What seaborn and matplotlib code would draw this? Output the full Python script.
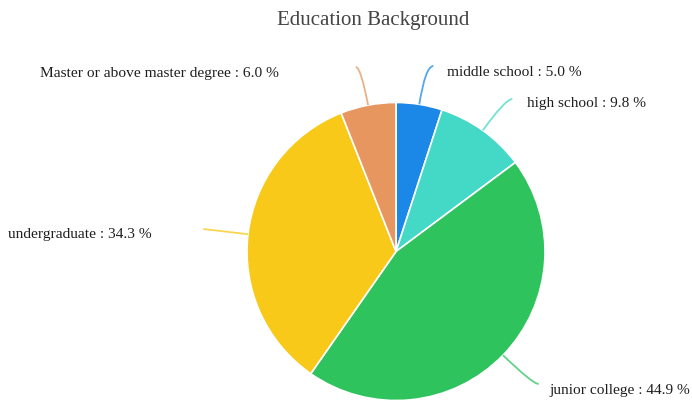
import numpy as np
import matplotlib
matplotlib.use("Agg")
import matplotlib.pyplot as plt
from matplotlib.path import Path
from matplotlib.patches import PathPatch
import seaborn as sns

# données
categories = ["middle school", "high school", "junior college", "undergraduate",
              "Master or above master degree"]
shares = [5.0, 9.8, 44.9, 34.3, 6.0]
couleurs = ["#1b88e8", "#44d8c6", "#2ec35d", "#f8c918", "#e6965e"]

sns.set_theme(style="white")
plt.rcParams["font.family"] = ["Liberation Serif", "DejaVu Serif"]

W, H = 692, 402
fig = plt.figure(figsize=(W / 100, H / 100), dpi=100)
ax = fig.add_axes([0, 0, 1, 1])

cx, cy, R = 396, H - 252.5, 149
ax.pie(shares, colors=couleurs, startangle=90, counterclock=False,
       center=(cx, cy), radius=R,
       wedgeprops=dict(edgecolor="white", linewidth=1.2))
ax.set_xlim(0, W)
ax.set_ylim(0, H)
ax.set_aspect("equal")
ax.axis("off")

# positions des étiquettes (pixels depuis le haut) et lignes de rappel
label_pos = [(447, 72), (527, 103), (549, 391), (8, 235), (40, 73)]
line_end_y = [67, 100, 385, 232, 68]
hook = [8, 7, 6, 0, -5]

total = sum(shares)
cum = 0
for i, (cat, v) in enumerate(zip(categories, shares)):
    mid = np.deg2rad((cum + v / 2) / total * 360)
    cum += v
    dx, dy = np.sin(mid), np.cos(mid)
    p0 = (cx + R * dx, cy + R * dy)
    ye = H - line_end_y[i]
    if abs(dy) > 0.2:
        t = (ye - p0[1]) / dy
    else:
        t = 45
    p1 = (p0[0] + t * dx, p0[1] + t * dy)
    p2 = (p1[0] + hook[i], p1[1])
    path = Path([p0, p1, p2], [Path.MOVETO, Path.CURVE3, Path.CURVE3])
    ax.add_patch(PathPatch(path, fill=False, edgecolor=couleurs[i],
                           alpha=0.75, linewidth=1.3))
    lx, ly = label_pos[i]
    ax.text(lx, H - ly, f"{cat} : {v:.1f} %", ha="left", va="center",
            fontsize=11.1, color="#1e1e1e")

ax.text(373, H - 20, "Education Background", ha="center", va="center",
        fontsize=15, color="#444444")

fig.savefig("out.png", dpi=100)
